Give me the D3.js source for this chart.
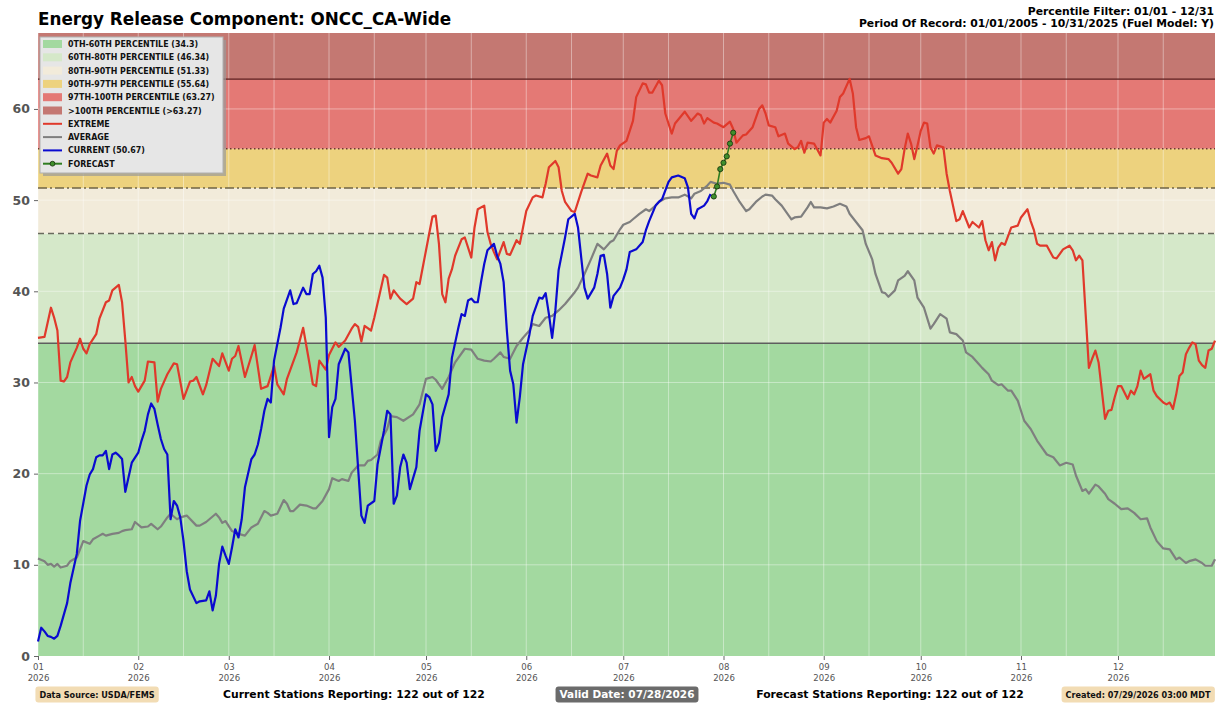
<!DOCTYPE html>
<html><head><meta charset="utf-8">
<script src="https://cdn.jsdelivr.net/npm/d3@7"></script>
<style>
html,body{margin:0;padding:0;background:#fff;}
svg{display:block;}
.cond{font-family:"DejaVu Sans Condensed","DejaVu Sans",sans-serif;font-stretch:condensed;}
.djv{font-family:"DejaVu Sans",sans-serif;}
</style></head>
<body>
<svg id="chart" width="1224" height="711"></svg>
<script>
// ---------------- DATA ----------------
const YEAR = 2026;
const thresholds = [34.3, 46.34, 51.33, 55.64, 63.27];
const bandColors = ["#a3d9a0", "#d5e8c9", "#f2ebda", "#edd27e", "#e47975", "#c47872"];
const bandLabels = ["0TH-60TH PERCENTILE (34.3)", "60TH-80TH PERCENTILE (46.34)", "80TH-90TH PERCENTILE (51.33)",
  "90TH-97TH PERCENTILE (55.64)", "97TH-100TH PERCENTILE (63.27)", ">100TH PERCENTILE (>63.27)"];
const lineLabels = ["EXTREME", "AVERAGE", "CURRENT (50.67)", "FORECAST"];
const yTicks = [0, 10, 20, 30, 40, 50, 60];
const yMax = 68.33;

// [day of year (0 = Jan 1), value]
const extreme = [[0,34.9],[2,35.0],[4,38.2],[5,37.1],[6,35.7],[7,30.2],[8,30.1],[9,30.6],[10,32.2],[12,33.8],[13,34.8],[14,33.7],[15,33.2],[16,34.2],[18,35.3],[19,37.0],[21,38.8],[22,39.0],[23,40.1],[25,40.7],[26,38.8],[27,34.6],[28,30.0],[29,30.6],[30,29.6],[31,29.0],[33,30.2],[34,32.3],[36,32.2],[37,27.9],[38,29.3],[40,30.9],[42,32.1],[43,32.0],[45,28.2],[47,30.1],[48,30.2],[49,30.6],[51,28.7],[52,29.7],[54,32.6],[56,31.8],[57,33.2],[59,31.3],[60,32.6],[61,32.9],[62,34.0],[64,30.6],[66,32.9],[67,34.1],[69,29.3],[71,29.6],[73,31.8],[74,29.8],[76,28.7],[77,30.4],[80,33.3],[82,36.0],[84,32.0],[85,29.8],[86,29.6],[87,32.4],[89,31.4],[90,33.0],[92,34.4],[93,33.9],[95,34.6],[97,35.9],[98,36.4],[99,36.1],[100,34.5],[101,36.2],[103,35.7],[104,37.1],[107,41.8],[108,41.5],[109,39.2],[110,40.1],[112,39.2],[114,38.6],[116,39.2],[117,41.0],[118,40.8],[120,44.5],[122,48.2],[123,48.3],[124,45.2],[125,39.7],[126,38.8],[127,41.4],[128,42.4],[129,43.9],[131,45.7],[132,45.9],[134,43.7],[135,47.0],[136,49.0],[138,49.4],[139,46.5],[140,45.2],[141,44.3],[142,43.5],[144,45.4],[145,44.1],[146,44.0],[148,45.6],[149,45.2],[151,48.8],[153,50.3],[154,50.5],[156,50.3],[157,51.8],[158,53.6],[160,54.3],[161,53.6],[162,51.0],[163,49.8],[165,48.8],[166,48.7],[168,50.9],[170,52.9],[171,52.7],[173,52.5],[174,53.8],[176,55.1],[177,53.8],[178,53.4],[179,55.4],[180,56.0],[182,56.5],[184,58.7],[185,61.3],[187,62.8],[188,62.7],[189,61.8],[190,61.8],[192,63.1],[193,62.6],[194,59.5],[196,57.3],[197,58.4],[200,59.7],[202,58.7],[203,59.1],[204,59.5],[205,59.3],[206,58.4],[207,59.0],[209,58.5],[210,58.4],[212,58.0],[214,58.6],[215,57.8],[216,56.3],[218,57.1],[219,57.2],[221,58.0],[223,60.0],[224,60.4],[225,59.5],[226,58.2],[228,58.0],[229,57.0],[231,57.3],[232,56.2],[234,55.6],[235,55.8],[236,56.5],[237,55.2],[238,56.3],[240,56.2],[242,54.9],[243,58.5],[244,58.9],[245,58.5],[247,59.8],[248,61.3],[249,61.7],[251,63.3],[252,61.7],[253,58.0],[254,56.6],[256,56.8],[257,57.0],[259,54.9],[261,54.6],[263,54.5],[264,54.1],[266,52.9],[267,53.4],[268,55.6],[269,57.3],[270,56.2],[271,54.5],[272,56.0],[273,57.6],[274,58.5],[275,58.4],[276,55.8],[277,55.1],[278,56.0],[280,55.8],[281,52.9],[282,51.0],[284,47.7],[285,47.9],[286,48.8],[288,47.0],[289,47.6],[291,47.0],[292,47.7],[293,45.6],[294,44.5],[295,45.4],[296,43.4],[297,44.8],[298,45.3],[299,45.1],[301,47.0],[303,47.2],[304,48.1],[306,49.0],[307,47.7],[308,46.7],[309,45.2],[310,45.0],[312,45.0],[314,43.7],[315,43.6],[317,44.6],[319,45.0],[320,44.5],[321,43.4],[322,43.9],[323,43.4],[324,37.5],[325,31.6],[326,32.6],[327,33.5],[328,32.2],[329,29.1],[330,26.0],[331,26.9],[332,27.0],[333,28.4],[334,29.6],[335,29.6],[337,28.2],[338,29.1],[339,28.7],[340,29.6],[341,31.3],[342,30.4],[344,30.9],[345,29.1],[346,28.5],[348,27.8],[349,27.6],[350,27.8],[351,27.1],[352,28.7],[353,30.7],[354,31.1],[355,33.1],[356,33.8],[357,34.4],[358,34.2],[359,32.4],[360,31.9],[361,31.6],[362,33.5],[363,33.7],[364,34.6]];

const average = [[0,10.7],[2,10.4],[3,10.0],[4,10.1],[5,9.8],[6,10.1],[7,9.7],[9,9.9],[10,10.4],[12,10.8],[14,12.6],[16,12.3],[17,12.8],[19,13.2],[20,13.4],[21,13.2],[23,13.4],[25,13.5],[26,13.7],[27,13.8],[29,13.9],[30,14.7],[32,14.1],[34,14.2],[35,14.5],[37,13.9],[38,14.2],[40,15.2],[41,15.6],[43,15.0],[44,15.2],[46,15.4],[49,14.3],[50,14.3],[52,14.7],[55,15.6],[56,15.2],[57,14.6],[58,14.8],[60,13.7],[62,13.4],[64,13.2],[66,14.1],[68,14.5],[70,15.9],[71,15.7],[72,15.4],[74,15.6],[76,17.1],[77,16.7],[78,15.9],[79,15.9],[81,16.6],[83,16.5],[85,16.2],[86,16.2],[88,17.0],[90,18.3],[91,19.5],[93,19.2],[94,19.4],[96,19.2],[97,20.1],[99,20.9],[101,20.9],[102,21.4],[103,21.5],[105,22.1],[106,23.6],[108,24.9],[109,26.3],[111,26.2],[113,25.8],[116,26.5],[118,27.6],[120,30.4],[122,30.6],[123,30.3],[125,29.3],[127,30.6],[129,32.2],[132,33.7],[134,33.6],[136,32.6],[138,32.4],[140,32.3],[141,32.6],[143,33.3],[144,32.8],[146,32.6],[148,34.0],[150,34.9],[152,35.7],[153,36.4],[155,36.2],[157,37.1],[159,37.3],[161,37.9],[163,38.6],[166,39.9],[167,40.4],[169,41.9],[171,43.5],[173,45.2],[175,44.6],[177,45.4],[178,45.6],[180,46.8],[181,47.3],[183,47.6],[184,47.9],[186,48.5],[188,49.0],[189,48.8],[191,49.4],[192,49.8],[194,50.2],[196,50.3],[198,50.3],[200,50.6],[202,50.2],[203,50.7],[205,51.0],[207,51.6],[208,52.0],[210,51.8],[212,51.9],[214,51.7],[215,51.0],[217,49.8],[219,48.8],[220,49.0],[222,49.8],[224,50.4],[225,50.6],[227,50.5],[228,50.1],[230,49.4],[233,47.9],[234,48.1],[236,48.2],[238,49.2],[239,49.8],[240,49.2],[242,49.2],[244,49.1],[246,49.3],[248,49.6],[250,49.3],[251,48.5],[253,47.6],[255,46.7],[256,45.2],[258,43.5],[259,41.9],[261,39.9],[262,39.8],[263,39.4],[265,40.1],[266,41.2],[268,41.7],[269,42.2],[271,41.2],[272,39.3],[274,38.2],[276,35.9],[277,36.4],[279,37.5],[281,37.0],[282,35.5],[284,35.3],[286,34.6],[287,33.3],[289,32.8],[291,32.0],[292,31.6],[294,30.9],[295,30.2],[297,29.7],[298,29.8],[300,29.1],[301,29.1],[303,28.0],[304,26.9],[305,25.8],[307,24.9],[309,23.6],[310,23.1],[312,22.1],[314,21.8],[316,20.9],[318,21.2],[320,21.0],[321,19.8],[323,18.1],[324,18.3],[325,17.8],[327,18.8],[328,18.6],[330,17.8],[331,17.2],[333,16.7],[335,16.1],[337,16.2],[339,15.7],[341,15.0],[343,15.1],[344,14.1],[346,12.6],[348,11.8],[350,11.7],[352,10.6],[353,10.8],[355,10.2],[356,10.4],[358,10.6],[360,10.2],[361,9.9],[363,9.9],[364,10.6]];

const current = [[0,1.6],[1,3.1],[2,2.7],[3,2.2],[4,2.1],[5,1.9],[6,2.2],[7,3.3],[9,5.8],[10,8.0],[12,11.2],[13,14.8],[15,18.7],[16,19.9],[17,20.5],[18,21.8],[19,22.0],[20,22.0],[21,22.5],[22,20.5],[23,22.1],[24,22.3],[25,22.0],[26,21.6],[27,18.0],[28,19.6],[29,21.2],[31,22.3],[32,23.6],[33,24.7],[34,26.5],[35,27.7],[36,27.1],[37,25.4],[38,23.8],[39,22.7],[40,22.1],[41,15.0],[42,17.0],[43,16.5],[44,15.2],[45,12.6],[46,9.3],[47,7.3],[49,5.8],[50,6.0],[52,6.1],[53,7.1],[54,5.0],[55,6.6],[56,10.1],[57,12.0],[58,11.0],[59,10.1],[60,11.9],[61,13.9],[62,13.0],[63,15.0],[64,18.5],[66,21.6],[67,22.1],[68,23.2],[69,24.9],[70,26.9],[71,28.2],[72,27.8],[73,32.4],[75,36.0],[76,38.1],[78,40.1],[79,38.6],[80,38.7],[82,40.4],[83,39.7],[84,39.7],[85,41.9],[86,42.2],[87,42.8],[88,41.5],[89,37.1],[90,24.0],[91,27.3],[92,28.2],[93,32.0],[95,33.7],[96,33.3],[98,25.8],[100,15.4],[101,14.6],[102,16.5],[104,17.0],[105,21.0],[107,24.7],[108,26.9],[109,26.5],[110,16.7],[111,17.6],[112,20.7],[113,22.1],[114,21.2],[115,18.3],[117,20.7],[118,24.7],[120,28.7],[121,28.4],[122,27.6],[123,22.5],[124,23.4],[125,26.2],[127,28.7],[128,32.7],[130,36.0],[131,37.5],[132,37.3],[133,39.0],[134,39.2],[135,38.8],[136,38.8],[137,41.0],[138,43.0],[139,44.5],[141,45.2],[142,43.9],[143,43.0],[144,41.0],[145,35.7],[146,31.3],[147,29.8],[148,25.6],[149,28.4],[150,32.0],[152,35.3],[153,37.3],[155,39.3],[156,39.2],[157,39.8],[158,37.5],[159,34.9],[160,37.9],[161,42.3],[163,45.9],[164,47.9],[166,48.5],[167,47.0],[168,43.7],[169,40.4],[170,39.2],[172,40.4],[173,41.9],[174,43.9],[175,44.0],[176,41.9],[177,38.2],[178,39.5],[180,40.4],[181,41.3],[182,42.4],[183,44.3],[185,44.6],[187,45.4],[188,46.7],[189,47.7],[191,49.4],[192,49.8],[193,50.1],[195,52.0],[196,52.5],[198,52.7],[200,52.4],[201,51.4],[202,48.5],[203,48.0],[204,49.0],[206,49.4],[207,49.9],[208,50.67]];

const forecast = [[209,50.4],[210,51.5],[211,53.4],[212,54.1],[213,54.8],[214,56.2],[215,57.4]];

const titleText = "Energy Release Component: ONCC_CA-Wide";
const topRight = ["Percentile Filter: 01/01 - 12/31", "Period Of Record: 01/01/2005 - 10/31/2025 (Fuel Model: Y)"];
const footer = {source: "Data Source: USDA/FEMS", current: "Current Stations Reporting: 122 out of 122",
  valid: "Valid Date: 07/28/2026", forecast: "Forecast Stations Reporting: 122 out of 122",
  created: "Created: 07/29/2026 03:00 MDT"};

// ---------------- CHART ----------------
const svg = d3.select("#chart");
const M = {left: 38, right: 1215, top: 33, bottom: 656};
const t0 = new Date(YEAR, 0, 1), t1 = new Date(YEAR, 11, 31);
const x = d3.scaleTime().domain([t0, t1]).range([M.left, M.right]);
const y = d3.scaleLinear().domain([0, yMax]).range([M.bottom, M.top]);
const dayDate = d => d3.timeDay.offset(t0, d);

// bands
const edges = [0, ...thresholds, yMax];
svg.append("g").selectAll("rect").data(bandColors).join("rect")
  .attr("x", M.left).attr("width", M.right - M.left)
  .attr("y", (c, i) => y(edges[i + 1])).attr("height", (c, i) => y(edges[i]) - y(edges[i + 1]))
  .attr("fill", c => c);

// grid
const gridDays = d3.timeDay.range(t0, d3.timeDay.offset(t1, 1)).filter(d => d.getDate() === 1 || d.getDate() === 15);
const grid = svg.append("g").attr("stroke", "#ffffff").attr("stroke-opacity", 0.4).attr("stroke-width", 1);
grid.selectAll("line.v").data(gridDays).join("line").attr("class", "v")
  .attr("x1", d => x(d)).attr("x2", d => x(d)).attr("y1", M.top).attr("y2", M.bottom);
grid.selectAll("line.h").data(yTicks.slice(1)).join("line").attr("class", "h")
  .attr("y1", d => y(d)).attr("y2", d => y(d)).attr("x1", M.left).attr("x2", M.right);

// threshold lines
const thrStyles = [
  {c: "#5e5e5e", w: 1.6, dash: null},
  {c: "#6a6a5e", w: 1.6, dash: "6,4"},
  {c: "#6f6446", w: 1.6, dash: "9,3,2,3"},
  {c: "#6e3a2c", w: 1.4, dash: "1.5,2.5"},
  {c: "#5a1c1c", w: 1.4, dash: null}
];
svg.append("g").selectAll("line").data(thresholds).join("line")
  .attr("x1", M.left).attr("x2", M.right).attr("y1", d => y(d)).attr("y2", d => y(d))
  .attr("stroke", (d, i) => thrStyles[i].c).attr("stroke-width", (d, i) => thrStyles[i].w)
  .attr("stroke-dasharray", (d, i) => thrStyles[i].dash);

// series
const line = d3.line().x(d => x(dayDate(d[0]))).y(d => y(d[1]));
const addLine = (data, color, w) => svg.append("path").datum(data).attr("d", line)
  .attr("fill", "none").attr("stroke", color).attr("stroke-width", w).attr("stroke-linejoin", "round");
addLine(average, "#7f7f7f", 2.2);
addLine(extreme, "#e0392b", 2.2);
addLine(current, "#0a0ad0", 2.2);
addLine(forecast, "#2f7d20", 1.6);
svg.append("g").selectAll("circle").data(forecast).join("circle")
  .attr("cx", d => x(dayDate(d[0]))).attr("cy", d => y(d[1])).attr("r", 2.6)
  .attr("fill", "#3f8f2c").attr("stroke", "#1b3a10").attr("stroke-width", 0.9);

// axes
const xAxis = d3.axisBottom(x).ticks(d3.timeMonth.every(1)).tickSize(4).tickPadding(3)
  .tickFormat(d3.timeFormat("%m"));
const gx = svg.append("g").attr("transform", `translate(0,${M.bottom})`).call(xAxis);
gx.select(".domain").remove();
gx.selectAll(".tick line").attr("stroke", "#666");
gx.selectAll(".tick text").attr("class", "cond").attr("fill", "#555").attr("font-size", 9.5)
  .each(function(d) {
    const t = d3.select(this);
    t.append("tspan").attr("x", 0).attr("dy", "1.2em").text(d3.timeFormat("%Y")(d));
  });

const yAxis = d3.axisLeft(y).tickValues(yTicks).tickSize(4).tickPadding(4).tickFormat(d3.format("d"));
const gy = svg.append("g").attr("transform", `translate(${M.left},0)`).call(yAxis);
gy.select(".domain").remove();
gy.selectAll(".tick line").attr("stroke", "#666");
gy.selectAll(".tick text").attr("class", "djv").attr("fill", "#555").attr("font-size", 12.5).attr("font-weight", "bold");

// title and header
svg.append("text").attr("class", "djv").attr("x", 38).attr("y", 25).attr("font-size", 16.8)
  .attr("font-weight", "bold").attr("fill", "#000").text(titleText);
svg.append("g").selectAll("text").data(topRight).join("text").attr("class", "djv")
  .attr("x", 1214).attr("y", (d, i) => 15 + i * 12).attr("text-anchor", "end")
  .attr("font-size", 10.8).attr("font-weight", "bold").text(d => d);

// legend
const lg = svg.append("g").attr("transform", "translate(40,37)");
lg.append("rect").attr("x", 3).attr("y", 3).attr("width", 183).attr("height", 136).attr("fill", "#9a9a9a").attr("opacity", 0.7);
lg.append("rect").attr("x", 0).attr("y", 0).attr("width", 183).attr("height", 136)
  .attr("fill", "#e6e6e6").attr("stroke", "#b0b0b0").attr("stroke-width", 1);
const rowY = i => 7 + i * 13.3;
bandLabels.forEach((lab, i) => {
  lg.append("rect").attr("x", 3).attr("y", rowY(i) - 4).attr("width", 19).attr("height", 8).attr("fill", bandColors[i]);
});
const legLines = [{c: "#e0392b"}, {c: "#7f7f7f"}, {c: "#0a0ad0"}, {c: "#2f7d20", m: true}];
legLines.forEach((l, j) => {
  const yy = rowY(6 + j);
  lg.append("line").attr("x1", 3).attr("x2", 22).attr("y1", yy).attr("y2", yy).attr("stroke", l.c).attr("stroke-width", 2);
  if (l.m) lg.append("circle").attr("cx", 12.5).attr("cy", yy).attr("r", 2.4).attr("fill", "#3f8f2c").attr("stroke", "#1b3a10").attr("stroke-width", 0.9);
});
lg.selectAll("text").data([...bandLabels, ...lineLabels]).join("text").attr("class", "cond")
  .attr("x", 28).attr("y", (d, i) => rowY(i) + 3).attr("font-size", 8.8).attr("font-weight", "bold")
  .attr("fill", "#111").text(d => d);

// footer
function boxText(txt, cx, cy, fill, color, cls, size, padX) {
  const g = svg.append("g");
  const t = g.append("text").attr("class", cls).attr("x", cx).attr("y", cy + size * 0.36)
    .attr("text-anchor", "middle").attr("font-size", size).attr("font-weight", "bold").attr("fill", color).text(txt);
  const bb = t.node().getBBox();
  g.insert("rect", "text").attr("x", bb.x - padX).attr("y", cy - 8).attr("width", bb.width + 2 * padX)
    .attr("height", 16).attr("rx", 3).attr("fill", fill);
}
boxText(footer.source, 97, 694.5, "#f2dcb4", "#111", "cond", 9, 4);
boxText(footer.valid, 627, 694.5, "#6b6b6b", "#fff", "djv", 10.5, 4);
boxText(footer.created, 1138, 694.5, "#f2dcb4", "#111", "cond", 9, 4);
svg.append("text").attr("class", "djv").attr("x", 354).attr("y", 698).attr("text-anchor", "middle")
  .attr("font-size", 10.8).attr("font-weight", "bold").text(footer.current);
svg.append("text").attr("class", "djv").attr("x", 890).attr("y", 698).attr("text-anchor", "middle")
  .attr("font-size", 10.8).attr("font-weight", "bold").text(footer.forecast);
</script>
</body></html>
